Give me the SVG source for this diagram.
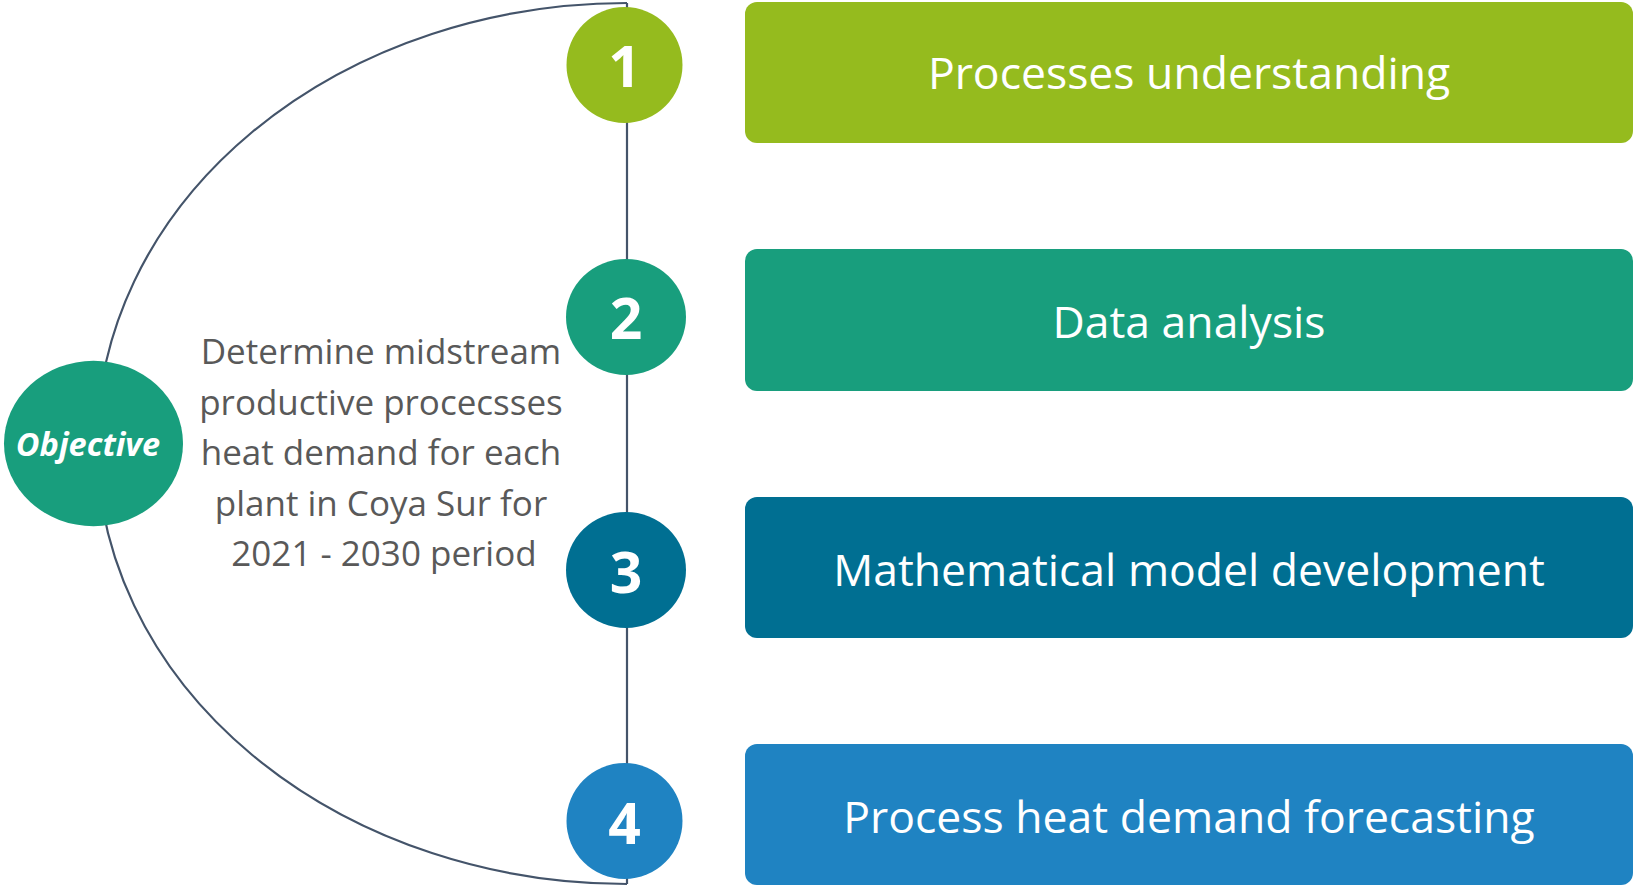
<svg xmlns="http://www.w3.org/2000/svg" width="1635" height="887" viewBox="0 0 1635 887">
<style>
.conn{fill:none;stroke:#44546A;stroke-width:2.2}
.box text{font-family:"Open Sans",Lato,sans-serif;font-size:44.5px;fill:#fff;text-anchor:middle}
.num{font-family:"Open Sans",Lato,sans-serif;font-size:57px;font-weight:bold;fill:#fff;text-anchor:middle}
.desc{font-family:"Open Sans",Lato,sans-serif;font-size:35px;fill:#595959;text-anchor:middle}
.obj{font-family:"Open Sans",Lato,sans-serif;font-size:32.5px;font-weight:bold;font-style:italic;fill:#fff;text-anchor:middle}
</style>
<rect width="1635" height="887" fill="#fff"/>
<g id="connectors">
<path class="conn" d="M627 3 A530 440.5 0 0 0 627 884"/>
<line class="conn" x1="627" y1="3" x2="627" y2="884"/>
</g>
<g id="objective">
<ellipse cx="93.5" cy="443.5" rx="89.5" ry="82.7" fill="#189E7D"/>
<text class="obj" x="88" y="456">Objective</text>
</g>
<g id="description">
<text class="desc" x="381" y="364">Determine midstream</text>
<text class="desc" x="381" y="414.5">productive procecsses</text>
<text class="desc" x="381" y="465">heat demand for each</text>
<text class="desc" x="381" y="515.5">plant in Coya Sur for</text>
<text class="desc" x="384" y="566">2021 - 2030 period</text>
</g>
<g id="step1">
<circle cx="624.5" cy="65" r="58" fill="#95BB1E"/>
<text class="num" x="624.5" y="87">1</text>
</g>
<g id="step2">
<ellipse cx="626" cy="317" rx="60" ry="58" fill="#189E7D"/>
<text class="num" x="626" y="339">2</text>
</g>
<g id="step3">
<ellipse cx="626" cy="570" rx="60" ry="58" fill="#006F92"/>
<text class="num" x="626" y="593">3</text>
</g>
<g id="step4">
<circle cx="624.5" cy="821" r="58" fill="#1F83C2"/>
<text class="num" x="624.5" y="844">4</text>
</g>
<g id="box1" class="box">
<rect x="745" y="2" width="888" height="141" rx="12" fill="#95BB1E"/>
<text x="1189" y="89">Processes understanding</text>
</g>
<g id="box2" class="box">
<rect x="745" y="249" width="888" height="142" rx="12" fill="#189E7D"/>
<text x="1189" y="338">Data analysis</text>
</g>
<g id="box3" class="box">
<rect x="745" y="497" width="888" height="141" rx="12" fill="#006F92"/>
<text x="1189" y="586">Mathematical model development</text>
</g>
<g id="box4" class="box">
<rect x="745" y="744" width="888" height="141" rx="12" fill="#1F83C2"/>
<text x="1189" y="833">Process heat demand forecasting</text>
</g>
</svg>
